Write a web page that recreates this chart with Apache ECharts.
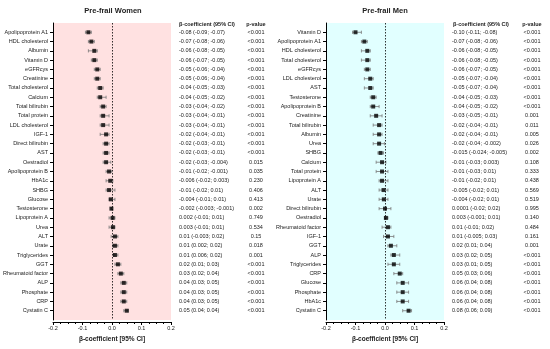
<!DOCTYPE html>
<html>
<head>
<meta charset="utf-8">
<script src="https://cdn.jsdelivr.net/npm/echarts@6/dist/echarts.min.js"></script>
<style>html,body{margin:0;padding:0;background:#fff;}#c{width:550px;height:349px;}</style>
</head>
<body>
<div id="c"></div>
<script>
// ---------- Pre-frail Women ----------
const womenLabels = ['Apolipoprotein A1','HDL cholesterol','Albumin','Vitamin D','eGFRcys','Creatinine','Total cholesterol','Calcium','Total bilirubin','Total protein','LDL cholesterol','IGF-1','Direct bilirubin','AST','Oestradiol','Apolipoprotein B','HbA1c','SHBG','Glucose','Testosterone','Lipoprotein A','Urea','ALT','Urate','Triglycerides','GGT','Rheumatoid factor','ALP','Phosphate','CRP','Cystatin C'];
const womenBeta = [-0.08,-0.07,-0.06,-0.06,-0.05,-0.05,-0.04,-0.04,-0.03,-0.03,-0.03,-0.02,-0.02,-0.02,-0.02,-0.01,-0.006,-0.01,-0.004,-0.002,0.002,0.003,0.01,0.01,0.01,0.02,0.03,0.04,0.04,0.04,0.05];
const womenLo = [-0.09,-0.08,-0.08,-0.07,-0.06,-0.06,-0.05,-0.05,-0.04,-0.04,-0.04,-0.04,-0.03,-0.03,-0.03,-0.02,-0.02,-0.02,-0.01,-0.003,-0.01,-0.01,-0.003,0.002,0.006,0.01,0.02,0.03,0.03,0.03,0.04];
const womenHi = [-0.07,-0.06,-0.05,-0.05,-0.04,-0.04,-0.03,-0.02,-0.02,-0.01,-0.01,-0.01,-0.01,-0.01,-0.004,-0.001,0.003,0.01,0.01,-0.001,0.01,0.01,0.02,0.02,0.02,0.03,0.04,0.05,0.05,0.05,0.055];
const womenCI = ['-0.08 (-0.09; -0.07)','-0.07 (-0.08; -0.06)','-0.06 (-0.08; -0.05)','-0.06 (-0.07; -0.05)','-0.05 (-0.06; -0.04)','-0.05 (-0.06; -0.04)','-0.04 (-0.05; -0.03)','-0.04 (-0.05; -0.02)','-0.03 (-0.04; -0.02)','-0.03 (-0.04; -0.01)','-0.03 (-0.04; -0.01)','-0.02 (-0.04; -0.01)','-0.02 (-0.03; -0.01)','-0.02 (-0.03; -0.01)','-0.02 (-0.03; -0.004)','-0.01 (-0.02; -0.001)','-0.006 (-0.02; 0.003)','-0.01 (-0.02; 0.01)','-0.004 (-0.01; 0.01)','-0.002 (-0.003; -0.001)','0.002 (-0.01; 0.01)','0.003 (-0.01; 0.01)','0.01 (-0.003; 0.02)','0.01 (0.002; 0.02)','0.01 (0.006; 0.02)','0.02 (0.01; 0.03)','0.03 (0.02; 0.04)','0.04 (0.03; 0.05)','0.04 (0.03; 0.05)','0.04 (0.03; 0.05)','0.05 (0.04; 0.04)'];
const womenP = ['<0.001','<0.001','<0.001','<0.001','<0.001','<0.001','<0.001','<0.001','<0.001','<0.001','<0.001','<0.001','<0.001','<0.001','0.015','0.035','0.230','0.406','0.413','0.002','0.749','0.534','0.15','0.018','0.001','<0.001','<0.001','<0.001','<0.001','<0.001','<0.001'];

// ---------- Pre-frail Men ----------
const menLabels = ['Vitamin D','Apolipoprotein A1','HDL cholesterol','Total cholesterol','eGFRcys','LDL cholesterol','AST','Testosterone','Apolipoprotein B','Creatinine','Total bilirubin','Albumin','Urea','SHBG','Calcium','Total protein','Lipoprotein A','ALT','Urate','Direct bilirubin','Oestradiol','Rheumatoid factor','IGF-1','GGT','ALP','Triglycerides','CRP','Glucose','Phosphate','HbA1c','Cystatin C'];
const menBeta = [-0.10,-0.07,-0.06,-0.06,-0.06,-0.05,-0.05,-0.04,-0.04,-0.03,-0.02,-0.02,-0.02,-0.015,-0.01,-0.01,-0.01,-0.005,-0.004,0.0001,0.003,0.01,0.01,0.02,0.03,0.03,0.05,0.06,0.06,0.06,0.08];
const menLo = [-0.11,-0.08,-0.08,-0.08,-0.07,-0.07,-0.07,-0.05,-0.05,-0.05,-0.04,-0.04,-0.04,-0.024,-0.03,-0.03,-0.02,-0.02,-0.02,-0.02,-0.001,-0.01,-0.005,0.01,0.02,0.01,0.03,0.04,0.04,0.04,0.06];
const menHi = [-0.08,-0.06,-0.05,-0.05,-0.05,-0.04,-0.04,-0.03,-0.02,-0.01,-0.01,-0.01,-0.002,-0.005,0.003,0.01,0.01,0.01,0.01,0.02,0.01,0.02,0.03,0.04,0.05,0.05,0.06,0.08,0.08,0.08,0.09];
const menCI = ['-0.10 (-0.11; -0.08)','-0.07 (-0.08; -0.06)','-0.06 (-0.08; -0.05)','-0.06 (-0.08; -0.05)','-0.06 (-0.07; -0.05)','-0.05 (-0.07; -0.04)','-0.05 (-0.07; -0.04)','-0.04 (-0.05; -0.03)','-0.04 (-0.05; -0.02)','-0.03 (-0.05; -0.01)','-0.02 (-0.04; -0.01)','-0.02 (-0.04; -0.01)','-0.02 (-0.04; -0.002)','-0.015 (-0.024; -0.005)','-0.01 (-0.03; 0.003)','-0.01 (-0.03; 0.01)','-0.01 (-0.02; 0.01)','-0.005 (-0.02; 0.01)','-0.004 (-0.02; 0.01)','0.0001 (-0.02; 0.02)','0.003 (-0.001; 0.01)','0.01 (-0.01; 0.02)','0.01 (-0.005; 0.03)','0.02 (0.01; 0.04)','0.03 (0.02; 0.05)','0.03 (0.01; 0.05)','0.05 (0.03; 0.06)','0.06 (0.04; 0.08)','0.06 (0.04; 0.08)','0.06 (0.04; 0.08)','0.08 (0.06; 0.09)'];
const menP = ['<0.001','<0.001','<0.001','<0.001','<0.001','<0.001','<0.001','<0.001','<0.001','0.001','0.011','0.005','0.026','0.002','0.108','0.333','0.438','0.569','0.519','0.995','0.140','0.484','0.161','0.001','<0.001','<0.001','<0.001','<0.001','<0.001','<0.001','<0.001'];

const xTicks = [-0.2, -0.1, 0.0, 0.1, 0.2];

const FONT = "'Liberation Sans Narrow','Arial Narrow','Liberation Sans',Arial,sans-serif";
const TXT = '#222';

const chart = echarts.init(document.getElementById('c'), null, {renderer: 'canvas'});

const grids = [], xAxes = [], yAxes = [], series = [];

function panel(i, labels, beta, lo, hi, ci, pv, bg, gLeft, pOffset) {
  const rows = labels.map((_, k) => k + 1);
  grids.push({left: gLeft, top: 23, width: 118, height: 297, show: true, backgroundColor: bg, borderWidth: 0});
  xAxes.push({
    gridIndex: i, type: 'value', min: xTicks[0], max: xTicks[xTicks.length - 1], interval: 0.1,
    offset: 2,
    axisLine: {show: true, onZero: false, lineStyle: {color: '#000', width: 1}},
    axisTick: {show: true, length: 3, lineStyle: {color: '#000'}},
    minorTick: {show: true, splitNumber: 4, length: 2, lineStyle: {color: '#000'}},
    axisLabel: {fontSize: 5.5, fontFamily: FONT, color: TXT, margin: 3, formatter: v => v.toFixed(1)},
    splitLine: {show: false},
    name: 'β-coefficient [95% CI]', nameLocation: 'middle', nameGap: 12,
    nameTextStyle: {fontSize: 6.5, fontWeight: 'bold', fontFamily: FONT, color: TXT}
  });
  const base = {gridIndex: i, type: 'value', min: 0, max: 32, inverse: true, splitLine: {show: false}};
  yAxes.push(Object.assign({}, base, {
    position: 'left',
    axisLine: {show: true, onZero: false, lineStyle: {color: '#000', width: 1}},
    axisTick: {show: true, length: 3, customValues: rows, lineStyle: {color: '#000'}},
    axisLabel: {customValues: rows, formatter: v => labels[v - 1] || '', fontSize: 5.5, fontFamily: FONT, color: TXT, margin: 5}
  }));
  yAxes.push(Object.assign({}, base, {
    position: 'right', offset: 0,
    axisLine: {show: false, onZero: false}, axisTick: {show: false},
    axisLabel: {customValues: rows, formatter: v => ci[v - 1] || '', fontSize: 5.5, fontFamily: FONT, color: TXT, margin: 8, align: 'left'}
  }));
  yAxes.push(Object.assign({}, base, {
    position: 'right', offset: pOffset,
    axisLine: {show: false, onZero: false}, axisTick: {show: false},
    axisLabel: {customValues: rows, formatter: v => pv[v - 1] || '', fontSize: 5.5, fontFamily: FONT, color: TXT, margin: 0, align: 'center'}
  }));
  series.push({
    type: 'custom', xAxisIndex: i, yAxisIndex: 3 * i, z: 2, silent: true,
    data: rows.map((r, k) => [lo[k], hi[k], r]),
    encode: {x: [0, 1], y: 2},
    renderItem: function (params, api) {
      const y = api.value(2);
      const a = api.coord([api.value(0), y]);
      const b = api.coord([api.value(1), y]);
      const h = 1.6;
      const st = {stroke: '#777', lineWidth: 0.8};
      return {type: 'group', children: [
        {type: 'line', shape: {x1: a[0], y1: a[1], x2: b[0], y2: b[1]}, style: st},
        {type: 'line', shape: {x1: a[0], y1: a[1] - h, x2: a[0], y2: a[1] + h}, style: st},
        {type: 'line', shape: {x1: b[0], y1: b[1] - h, x2: b[0], y2: b[1] + h}, style: st}
      ]};
    }
  });
  series.push({
    type: 'scatter', xAxisIndex: i, yAxisIndex: 3 * i, z: 3, silent: true,
    symbol: 'rect', symbolSize: 4, itemStyle: {color: '#000'},
    data: rows.map((r, k) => [beta[k], r]),
    markLine: {
      silent: true, symbol: ['none', 'none'], label: {show: false},
      lineStyle: {type: [1.5, 1.5], color: '#000', width: 0.8},
      data: [{xAxis: 0}]
    }
  });
}

panel(0, womenLabels, womenBeta, womenLo, womenHi, womenCI, womenP, '#FFE1E1', 53, 85);
panel(1, menLabels, menBeta, menLo, menHi, menCI, menP, '#E1FFFF', 326, 88);

function txt(x, y, s, opt) {
  return Object.assign({type: 'text', x: x, y: y, silent: true,
    style: Object.assign({text: s, fill: TXT, fontFamily: FONT, fontSize: 5.5, fontWeight: 'bold', textVerticalAlign: 'middle'}, opt || {})});
}

chart.setOption({
  animation: false,
  grid: grids, xAxis: xAxes, yAxis: yAxes, series: series,
  graphic: [
    txt(113, 11, 'Pre-frail Women', {fontSize: 7.5, textAlign: 'center'}),
    txt(385, 11, 'Pre-frail Men', {fontSize: 7.5, textAlign: 'center'}),
    txt(179, 24, 'β-coefficient (95% CI)', {textAlign: 'left'}),
    txt(256, 24, 'p-value', {textAlign: 'center'}),
    txt(453, 24, 'β-coefficient (95% CI)', {textAlign: 'left'}),
    txt(532, 24, 'p-value', {textAlign: 'center'})
  ]
});
</script>
</body>
</html>
